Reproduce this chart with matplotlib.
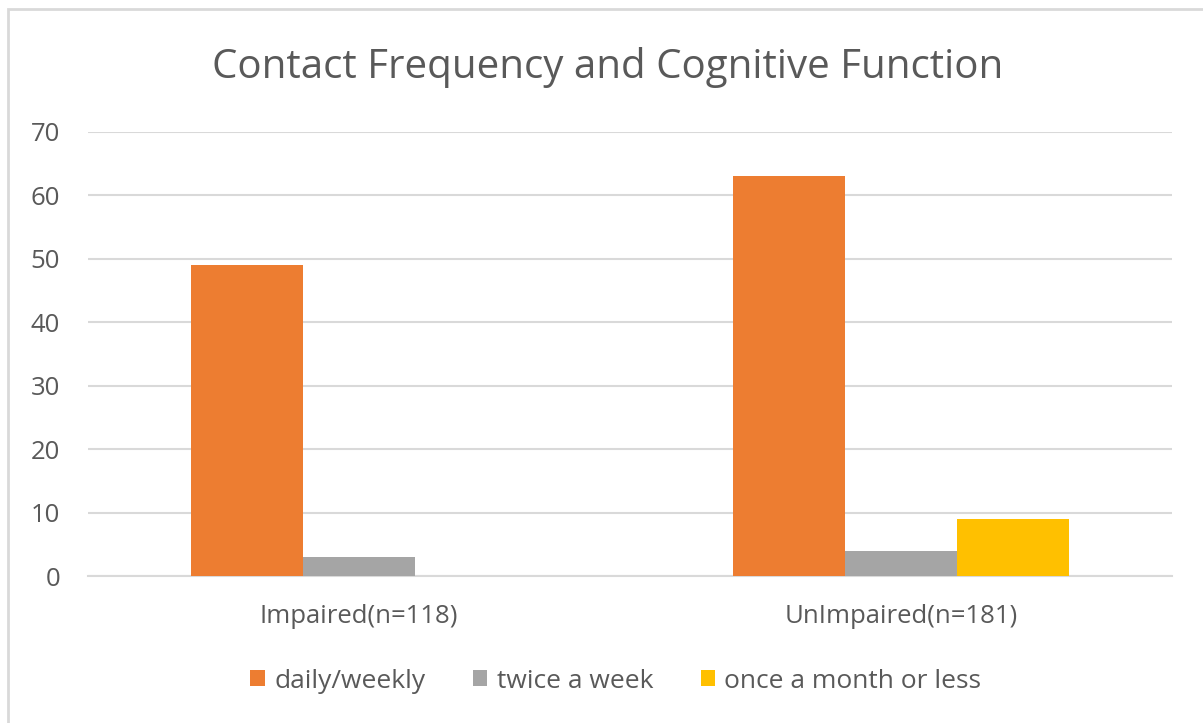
import matplotlib.pyplot as plt
import numpy as np
from matplotlib.patches import Rectangle

plt.rcParams['font.family'] = ['Open Sans', 'DejaVu Sans']

groups = ['Impaired(n=118)', 'UnImpaired(n=181)']
series = ['daily/weekly', 'twice a week', 'once a month or less']
daily_weekly = [49, 63]
twice_week = [3, 4]
once_month = [0, 9]
colors = ['#ED7D31', '#A5A5A5', '#FFC000']
text_col = '#595959'

fig = plt.figure(figsize=(12.03, 7.23), dpi=100)
ax = fig.add_axes([88 / 1203, 1 - 576 / 723, (1172 - 88) / 1203, (576 - 132) / 723])

x = np.arange(len(groups))
w = 0.207
for i, (vals, name) in enumerate(zip([daily_weekly, twice_week, once_month], series)):
    ax.bar(x + (i - 1) * w, vals, width=w, color=colors[i], label=name, zorder=3)

ax.set_xlim(-0.5, 1.5)
ax.set_ylim(0, 70)
ax.set_yticks(range(0, 71, 10))
ax.grid(axis='y', color='#D9D9D9', linewidth=1.5, zorder=0)
for s in ['top', 'right', 'left']:
    ax.spines[s].set_visible(False)
ax.spines['bottom'].set_color('#D9D9D9')
ax.spines['bottom'].set_linewidth(1.5)
ax.set_xticks(x)
ax.set_xticklabels(groups)
ax.tick_params(axis='both', length=0, labelsize=18.5, colors=text_col)
ax.tick_params(axis='x', pad=20)
ax.tick_params(axis='y', pad=20)

fig.text(0.505, 1 - 67 / 723, 'Contact Frequency and Cognitive Function',
         ha='center', va='center', fontsize=29, color=text_col)

leg = fig.legend(loc='center', bbox_to_anchor=(0.512, 1 - 681 / 723), ncol=3, frameon=False,
                 fontsize=19, labelcolor=text_col, handlelength=0.55, handleheight=0.55,
                 handletextpad=0.35, columnspacing=1.8)

fig.patches.append(Rectangle((8 / 1203, -0.1), 1.2, 1 - 9 / 723 + 0.1, transform=fig.transFigure,
                             fill=False, edgecolor='#D9D9D9', linewidth=2))

fig.savefig('out.png', dpi=100)
